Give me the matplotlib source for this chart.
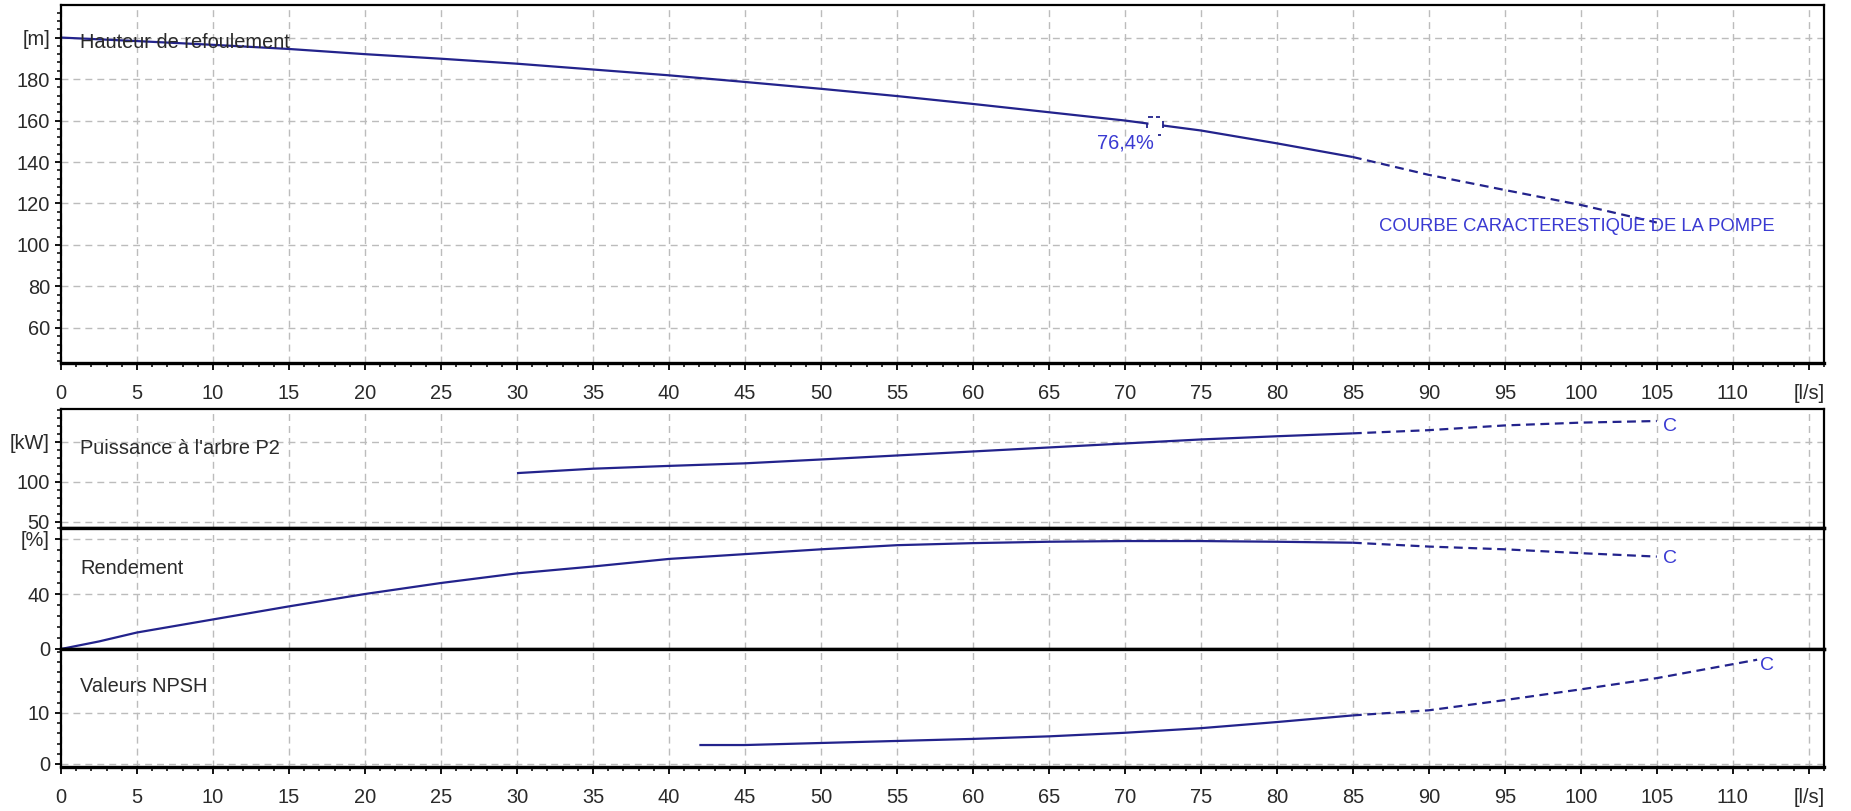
import matplotlib.pyplot as plt
from matplotlib.ticker import MultipleLocator, FuncFormatter
from matplotlib.path import Path

plt.rcParams['font.family'] = ['Liberation Sans', 'DejaVu Sans']

# debit [l/s] / hauteur [m] - plage de service (trait plein) et prolongement (tirets)
q_head = [0, 5, 10, 15, 20, 25, 30, 35, 40, 45, 50, 55, 60, 65, 70, 75, 80, 85]
h_head = [200, 198.3, 196.5, 194.5, 192, 189.8, 187.4, 184.6, 181.8, 178.6,
          175.3, 171.8, 168, 164, 160, 155.2, 149, 142.4]
q_head_ext = [85, 90, 95, 100, 105]
h_head_ext = [142.4, 133.8, 126.5, 119.3, 110.8]

# puissance a l'arbre P2 [kW]
q_pow = [30, 35, 40, 45, 50, 55, 60, 65, 70, 75, 80, 85]
p_pow = [111, 116.5, 120, 123.2, 128, 133, 138, 143, 148, 153, 157, 160.6]
q_pow_ext = [85, 90, 95, 100, 105]
p_pow_ext = [160.6, 164.6, 170.5, 174, 176]

# rendement [%]
q_eff = [0, 2.5, 5, 10, 15, 20, 25, 30, 35, 40, 45, 50, 55, 60, 65, 70, 75, 80, 85]
e_eff = [0, 5.5, 12, 21.5, 31, 40, 48, 55, 60, 65.5, 69, 72.5, 75.5, 77, 78,
         78.5, 78.5, 78, 77.3]
q_eff_ext = [85, 90, 95, 100, 105]
e_eff_ext = [77.3, 74.5, 72.5, 69.7, 67.2]

# NPSH [m]
q_npsh = [42, 45, 50, 55, 60, 65, 70, 75, 80, 85]
n_npsh = [3.7, 3.7, 4.1, 4.5, 4.9, 5.4, 6.1, 7.0, 8.2, 9.5]
q_npsh_ext = [85, 90, 95, 100, 105, 111.6]
n_npsh_ext = [9.5, 10.5, 12.5, 14.6, 16.8, 20.4]

# point de meilleur rendement
bep_q, bep_h, bep_label = 72.0, 157.5, '76,4%'

LINE = '#23238c'
BLUE = '#3a3ad2'
TXT = '#2a2a2a'
W, H = 1851, 811


def frac(top, bottom):
    return [61 / W, (H - bottom) / H, (1824 - 61) / W, (bottom - top) / H]


def setup(ax, ylim, yticks, ymin, unit, xlabels):
    ax.set_xlim(0, 116)
    ax.set_ylim(*ylim)
    ax.set_yticks(yticks)
    ax.set_yticklabels([str(v) for v in yticks[:-1]] + [unit] if unit else [str(v) for v in yticks])
    ax.yaxis.set_minor_locator(MultipleLocator(ymin))
    ax.xaxis.set_major_locator(MultipleLocator(5))
    ax.xaxis.set_minor_locator(MultipleLocator(1))
    ax.xaxis.set_major_formatter(FuncFormatter(
        lambda v, p: '[l/s]' if round(v) == 115 else f'{v:.0f}'))
    ax.grid(True, which='major', color='#bcbcbc', linestyle=(0, (5, 3.6)), linewidth=1.0)
    ax.tick_params(axis='y', which='major', direction='out', length=4.5, width=1.3,
                   pad=3.5, labelsize=14.4, labelcolor=TXT)
    ax.tick_params(axis='y', which='minor', direction='out', length=2.8, width=1.1)
    ax.tick_params(axis='x', which='major', direction='out', length=5, width=1.3,
                   pad=10, labelsize=14.4, labelcolor=TXT)
    ax.tick_params(axis='x', which='minor', direction='out', length=3, width=1.1)
    if not xlabels:
        ax.tick_params(axis='x', which='both', bottom=False, labelbottom=False)
    for s in ax.spines.values():
        s.set_linewidth(1.6)
        s.set_color('black')


def curve(ax, q, v, qe, ve):
    ax.plot(q, v, color=LINE, lw=1.6, solid_capstyle='butt')
    ax.plot(qe, ve, color=LINE, lw=1.6, linestyle=(0, (4, 2.5)))


fig = plt.figure(figsize=(W / 100, H / 100), dpi=100)

# ---- hauteur de refoulement
ax1 = fig.add_axes(frac(5, 363))
setup(ax1, (43.1, 215.7), [60, 80, 100, 120, 140, 160, 180, 200], 4, '[m]', True)
ax1.spines['bottom'].set_linewidth(2.4)
curve(ax1, q_head, h_head, q_head_ext, h_head_ext)
ax1.plot(bep_q, bep_h, marker='s', ms=10.5, mfc='white', mec='none', zorder=3)
bracket = Path([(-8, 3), (-8, -2), (-7, 9), (-2, 9), (1, 9), (5, 9),
                (8, -2), (8, 5), (3, -9), (6, -9)],
               [Path.MOVETO, Path.LINETO] * 5)
ax1.plot(bep_q, bep_h, marker=bracket, ms=13, mec=LINE, mew=1.3, zorder=4)
ax1.annotate(bep_label, xy=(bep_q, bep_h), xytext=(-21.6, -12.2),
             textcoords='offset points', ha='center', va='center',
             color=BLUE, fontsize=14.4)
ax1.text(86.7, 108.7, 'COURBE CARACTERESTIQUE DE LA POMPE', color=BLUE,
         fontsize=13.3, ha='left', va='center')
ax1.text(0.0108, 0.894, 'Hauteur de refoulement', transform=ax1.transAxes,
         fontsize=14.4, color=TXT, ha='left', va='center')

# ---- puissance
ax2 = fig.add_axes(frac(409, 528))
setup(ax2, (42.5, 191), [50, 100, 150], 10, '[kW]', False)
ax2.spines['bottom'].set_linewidth(2.4)
curve(ax2, q_pow, p_pow, q_pow_ext, p_pow_ext)
ax2.annotate('C', xy=(q_pow_ext[-1], p_pow_ext[-1]), xytext=(9.5, -4),
             textcoords='offset points', ha='center', va='center',
             color=BLUE, fontsize=14)
ax2.text(0.0108, 0.672, "Puissance à l'arbre P2", transform=ax2.transAxes,
         fontsize=14.4, color=TXT, ha='left', va='center')

# ---- rendement
ax3 = fig.add_axes(frac(528, 649))
setup(ax3, (0, 88), [0, 40, 80], 8, '[%]', False)
ax3.spines['top'].set_linewidth(2.4)
ax3.spines['bottom'].set_linewidth(2.4)
curve(ax3, q_eff, e_eff, q_eff_ext, e_eff_ext)
ax3.annotate('C', xy=(q_eff_ext[-1], e_eff_ext[-1]), xytext=(9.5, -1.5),
             textcoords='offset points', ha='center', va='center',
             color=BLUE, fontsize=14)
ax3.text(0.0108, 0.669, 'Rendement', transform=ax3.transAxes,
         fontsize=14.4, color=TXT, ha='left', va='center')

# ---- NPSH
ax4 = fig.add_axes(frac(649, 767))
setup(ax4, (-0.6, 22.5), [0, 10], 2, None, True)
ax4.spines['top'].set_linewidth(2.4)
ax4.spines['bottom'].set_linewidth(2.4)
curve(ax4, q_npsh, n_npsh, q_npsh_ext, n_npsh_ext)
ax4.annotate('C', xy=(q_npsh_ext[-1], n_npsh_ext[-1]), xytext=(7, -4.5),
             textcoords='offset points', ha='center', va='center',
             color=BLUE, fontsize=14)
ax4.text(0.0108, 0.678, 'Valeurs NPSH', transform=ax4.transAxes,
         fontsize=14.4, color=TXT, ha='left', va='center')

fig.savefig('out.png', dpi=100)
